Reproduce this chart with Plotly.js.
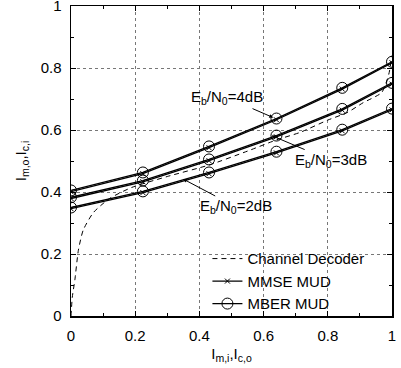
<!DOCTYPE html>
<html>
<head>
<meta charset="utf-8">
<script src="https://cdn.plot.ly/plotly-3.0.1.min.js"></script>
<style>html,body{margin:0;padding:0;background:#fff;}</style>
</head>
<body>
<div id="chart" style="width:401px;height:368px;"></div>
<script>
// MUD curves (x = I_m,i)
const xMUD = [0, 0.224, 0.43, 0.64, 0.845, 1];
const mber4dB = [0.405, 0.463, 0.547, 0.637, 0.736, 0.820];
const mber3dB = [0.383, 0.437, 0.505, 0.582, 0.668, 0.752];
const mber2dB = [0.350, 0.402, 0.463, 0.530, 0.601, 0.669];
const mmse4dB = [0.401, 0.459, 0.543, 0.633, 0.732, 0.817];
const mmse3dB = [0.379, 0.433, 0.501, 0.578, 0.664, 0.748];
const mmse2dB = [0.346, 0.398, 0.459, 0.526, 0.597, 0.665];
// Channel decoder curve
const decX = [0, 0.004, 0.012, 0.023, 0.038, 0.07, 0.12, 0.19, 0.3, 0.43, 0.55, 0.64, 0.713, 0.80, 0.86, 0.91, 0.968, 0.99, 1.0];
const decY = [0, 0.06, 0.116, 0.212, 0.277, 0.334, 0.379, 0.415, 0.45, 0.487, 0.532, 0.568, 0.592, 0.632, 0.656, 0.688, 0.721, 0.78, 0.84];
// labels
const seriesNames = ['Channel Decoder', 'MMSE MUD', 'MBER MUD'];
const snrLabels = ['E<sub>b</sub>/N<sub>0</sub>=4dB', 'E<sub>b</sub>/N<sub>0</sub>=3dB', 'E<sub>b</sub>/N<sub>0</sub>=2dB'];
const xTitle = 'I<sub>m,i</sub>,I<sub>c,o</sub>';
const yTitle = 'I<sub>m,o</sub>,I<sub>c,i</sub>';

const lineW = 1.3;
function mmseTrace(y, show) {
  return {x: xMUD, y: y, mode: 'lines+markers', name: seriesNames[1], showlegend: show,
    legendrank: 2,
    line: {color: '#000', width: lineW},
    marker: {symbol: 'x-thin-open', size: 5, line: {color: '#000', width: 1}, color: '#000'}};
}
function mberTrace(y, show) {
  return {x: xMUD, y: y, mode: 'lines+markers', name: seriesNames[2], showlegend: show,
    legendrank: 3,
    line: {color: '#000', width: lineW},
    marker: {symbol: 'circle-open', size: 11, line: {color: '#000', width: 1}, color: '#000'}};
}
const data = [
  {x: decX, y: decY, mode: 'lines', name: seriesNames[0], legendrank: 1,
   line: {color: '#000', width: 1, dash: '5px,4px', shape: 'spline', smoothing: 0.6}},
  mmseTrace(mmse4dB, true), mmseTrace(mmse3dB, false), mmseTrace(mmse2dB, false),
  mberTrace(mber4dB, true), mberTrace(mber3dB, false), mberTrace(mber2dB, false)
];

const axisCommon = {
  range: [0, 1], dtick: 0.2, tick0: 0,
  showline: true, linecolor: '#000', linewidth: 1.5, mirror: 'ticks',
  ticks: 'inside', ticklen: 5, tickcolor: '#000', tickwidth: 1,
  showgrid: true, gridcolor: '#777', griddash: 'dot', gridwidth: 1,
  zeroline: false, ticklabelstandoff: 5, ticklabeloverflow: 'allow',
  tickfont: {size: 15, color: '#000'},
  minor: {dtick: 0.1, ticks: 'inside', ticklen: 3, tickcolor: '#000', tickwidth: 1, showgrid: false}
};

const layout = {
  width: 401, height: 368,
  margin: {l: 71, r: 9, t: 6, b: 52},
  paper_bgcolor: '#fff', plot_bgcolor: '#fff',
  font: {family: 'Liberation Sans, Arial, sans-serif', size: 15, color: '#000'},
  xaxis: Object.assign({}, axisCommon, {title: {text: xTitle, font: {size: 15}, standoff: 6}}),
  yaxis: Object.assign({}, axisCommon, {title: {text: yTitle, font: {size: 15}, standoff: 10}}),
  showlegend: true,
  legend: {x: 0.425, y: -0.014, xanchor: 'left', yanchor: 'bottom', bgcolor: 'rgba(255,255,255,0)',
    font: {size: 15}, tracegroupgap: 0, traceorder: 'normal'},
  annotations: [
    {x: 0.63, y: 0.64, xref: 'x', yref: 'y', text: snrLabels[0], showarrow: true,
     ax: -46, ay: -20, arrowhead: 2, arrowsize: 0.8, arrowwidth: 1, arrowcolor: '#000', font: {size: 15}},
    {x: 0.625, y: 0.582, xref: 'x', yref: 'y', text: snrLabels[1], showarrow: true,
     ax: 59, ay: 25, arrowhead: 2, arrowsize: 0.8, arrowwidth: 1, arrowcolor: '#000', font: {size: 15}},
    {x: 0.349, y: 0.442, xref: 'x', yref: 'y', text: snrLabels[2], showarrow: true,
     ax: 53, ay: 28, arrowhead: 2, arrowsize: 0.8, arrowwidth: 1, arrowcolor: '#000', font: {size: 15}}
  ]
};

Plotly.newPlot('chart', data, layout, {staticPlot: true, displayModeBar: false});
</script>
</body>
</html>
